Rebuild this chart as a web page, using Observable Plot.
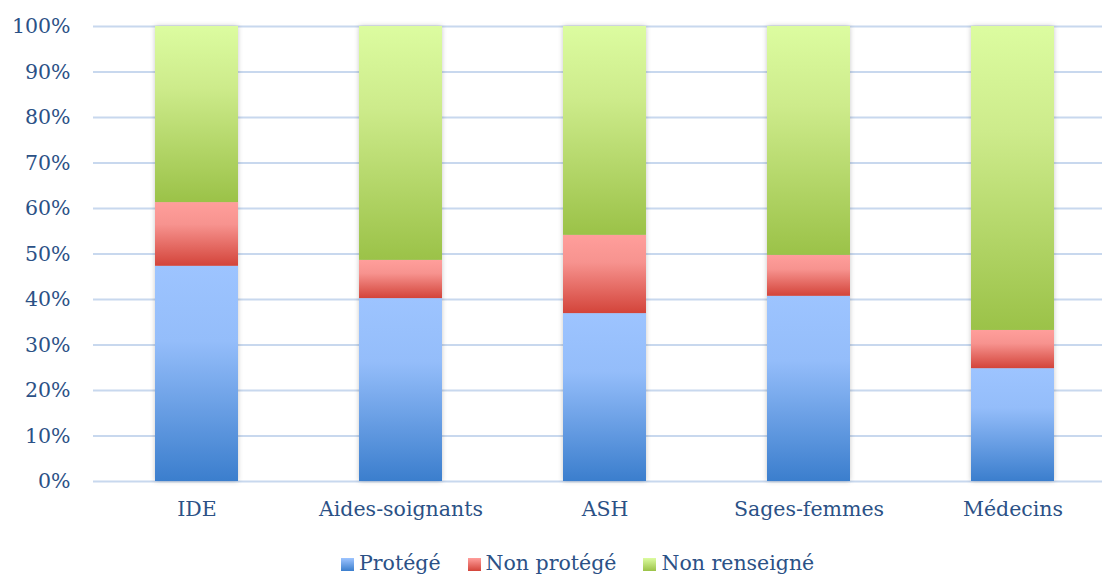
<!DOCTYPE html>
<html>
<head>
<meta charset="utf-8">
<script src="https://cdn.jsdelivr.net/npm/d3@7"></script>
<script src="https://cdn.jsdelivr.net/npm/@observablehq/plot@0.6"></script>
<style>
  html, body { margin: 0; padding: 0; background: #fff; }
  body { width: 1102px; height: 575px; overflow: hidden; position: relative; font-family: "DejaVu Serif", serif; }
  #legend { position: absolute; left: 341px; top: 551px; display: flex; align-items: center; color: #2B5186; font-size: 20.5px; white-space: nowrap; }
  #legend .item { display: flex; align-items: center; margin-right: 27px; }
  #legend .sw { width: 13px; height: 13px; margin-right: 5px; margin-top: 3px; }
</style>
</head>
<body>
<svg width="0" height="0" style="position:absolute">
  <defs>
    <linearGradient id="gBlue" x1="0" y1="0" x2="0" y2="1">
      <stop offset="0" stop-color="#9DC4FF"/>
      <stop offset="0.35" stop-color="#94BDFA"/>
      <stop offset="1" stop-color="#3B7ECD"/>
    </linearGradient>
    <linearGradient id="gRed" x1="0" y1="0" x2="0" y2="1">
      <stop offset="0" stop-color="#FF9E9B"/>
      <stop offset="0.35" stop-color="#F7938F"/>
      <stop offset="1" stop-color="#D3443A"/>
    </linearGradient>
    <linearGradient id="gGreen" x1="0" y1="0" x2="0" y2="1">
      <stop offset="0" stop-color="#DCFCA0"/>
      <stop offset="0.35" stop-color="#CDEB8B"/>
      <stop offset="1" stop-color="#9BC248"/>
    </linearGradient>
  </defs>
</svg>
<div id="chart"></div>
<div id="legend"></div>
<script>
const categories = ["IDE", "Aides-soignants", "ASH", "Sages-femmes", "Médecins"];
const seriesNames = ["Protégé", "Non protégé", "Non renseigné"];
const protege = [47.3, 40.2, 36.9, 40.7, 24.8];
const nonProtege = [14.0, 8.4, 17.2, 9.0, 8.4];
const nonRenseigne = [38.7, 51.4, 45.9, 50.3, 66.8];
const yTicks = [0, 10, 20, 30, 40, 50, 60, 70, 80, 90, 100];
const seriesFills = ["url(#gBlue)", "url(#gRed)", "url(#gGreen)"];
const swatchCss = ["linear-gradient(#9DC4FF, #3B7ECD)", "linear-gradient(#FF9E9B, #D3443A)", "linear-gradient(#DCFCA0, #9BC248)"];

const seriesValues = [protege, nonProtege, nonRenseigne];
const rows = [];
categories.forEach((c, i) => {
  seriesNames.forEach((s, j) => rows.push({category: c, series: s, value: seriesValues[j][i]}));
});

const chart = Plot.plot({
  width: 1102,
  height: 545,
  marginTop: 26,
  marginBottom: 64,
  marginLeft: 93,
  marginRight: -14,
  style: { fontFamily: "DejaVu Serif, serif", fontSize: "20.5px", color: "#2B5186", background: "#fff" },
  x: { domain: categories, paddingInner: 0.594, paddingOuter: 0.297, label: null },
  y: { domain: [0, 100], label: null },
  color: { domain: seriesNames, range: seriesFills, type: "ordinal" },
  marks: [
    Plot.ruleY(yTicks, { stroke: "#C8D8EE", strokeWidth: 1.8 }),
    Plot.barY(rows, Plot.stackY({ x: "category", y: "value", fill: "series", order: seriesNames })),
    Plot.axisY(yTicks, { tickSize: 0, tickPadding: 23, tickFormat: d => d + "%", fill: "#2B5186" }),
    Plot.axisX({ tickSize: 0, tickPadding: 20, fill: "#2B5186" })
  ]
});
d3.select(chart).selectAll("g[aria-label='bar']").style("filter", "drop-shadow(0px 0px 2.5px rgba(0,0,0,0.22))");
document.getElementById("chart").appendChild(chart);

const legend = document.getElementById("legend");
seriesNames.forEach((s, j) => {
  const item = document.createElement("div");
  item.className = "item";
  const sw = document.createElement("div");
  sw.className = "sw";
  sw.style.background = swatchCss[j];
  const t = document.createElement("span");
  t.textContent = s;
  item.appendChild(sw);
  item.appendChild(t);
  legend.appendChild(item);
});
</script>
</body>
</html>
